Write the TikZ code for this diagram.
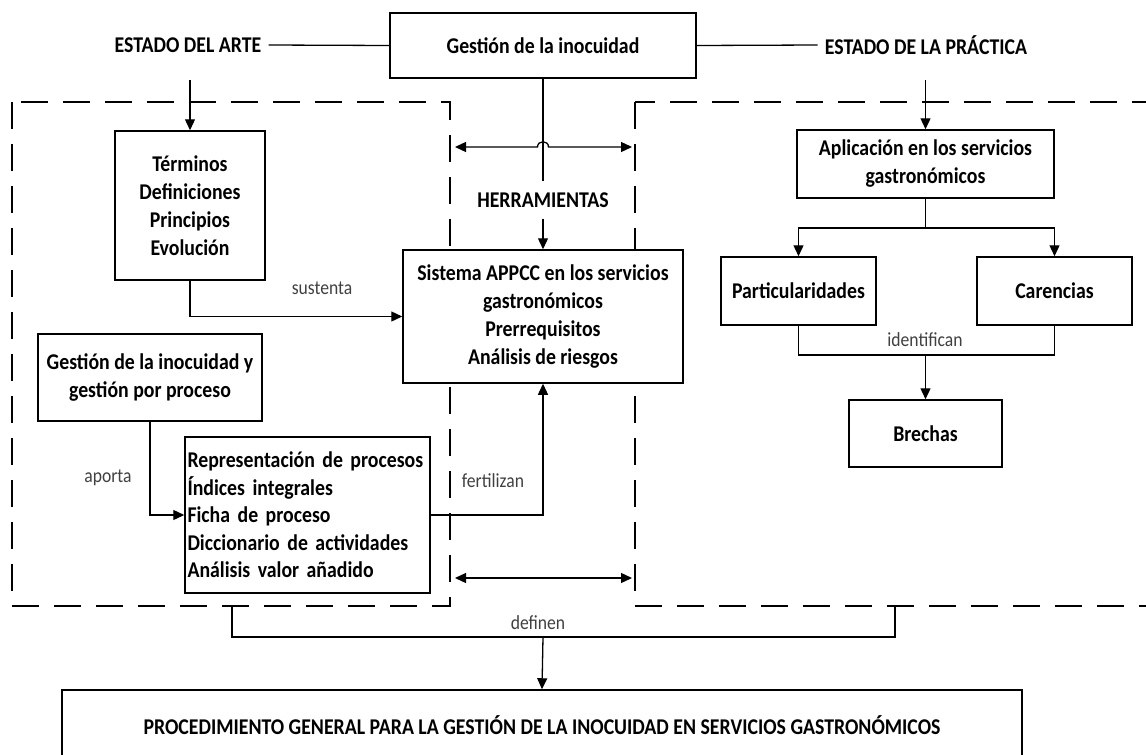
\documentclass[tikz,border=0pt]{standalone}
\usepackage{fontspec}
\setmainfont{Carlito}[FakeStretch=0.88]
\usetikzlibrary{arrows.meta}
\begin{document}
\begin{tikzpicture}[x=1pt,y=-1pt,
  box/.style={draw, line width=1.5pt, fill=white, align=center, inner sep=0pt,
    font=\bfseries\fontsize{22.5}{28}\selectfont},
  plain/.style={inner xsep=7pt, inner ysep=2pt, font=\bfseries\fontsize{22.5}{28}\selectfont},
  lbl/.style={inner sep=0pt, text=black!75, font=\fontsize{20}{22}\selectfont},
  link/.style={line width=1.3pt},
  arr/.style={link, -{Triangle[length=11pt,width=10pt]}},
  twoway/.style={link, {Triangle[length=11pt,width=10pt]}-{Triangle[length=11pt,width=10pt]}},
  zone/.style={line width=1.9pt, dash pattern=on 27pt off 15pt},
]
\useasboundingbox (0,0) rectangle (1146,755);
\clip (0,0) rectangle (1146,755);

% dashed zones: state of the art (left) and state of practice (right)
\draw[zone] (12,102) rectangle (450,606);
\draw[zone] (635,102) rectangle (1170,606);

% free ends of connectors
\coordinate (arteFoot) at (190,80);
\coordinate (pracFoot) at (925.5,80);
\coordinate (toolL) at (455,147);
\coordinate (toolR) at (632,147);
\coordinate (fieldL) at (455,578);
\coordinate (fieldR) at (632,578);
\coordinate (leftBase) at (232,606);
\coordinate (rightBase) at (895,606);
\coordinate (merge) at (543,637);
\coordinate (fork) at (925.5,228);
\coordinate (join) at (925.5,355);

% top row
\node[box, minimum width=306, minimum height=65] (gest) at (543,45.5) {Gestión de la inocuidad};
\node[plain] (arte) at (188,45) {ESTADO DEL ARTE};
\node[plain] (prac) at (926,45) {ESTADO DE LA PRÁCTICA};
\node[plain, inner ysep=11pt] (herr) at (543,200) {HERRAMIENTAS};

% left zone
\node[box, minimum width=150, minimum height=149] (term) at (190,205.5)
  {Términos\\Definiciones\\Principios\\Evolución};
\node[box, minimum width=224, minimum height=87] (gyg) at (150,377.5)
  {Gestión de la inocuidad y\\gestión por proceso};
\node[box, minimum width=245, minimum height=156, text width=240pt, align=left,
  font=\bfseries\fontsize{22.5}{27.5}\selectfont] (proc) at (307.5,515)
  {Representación de procesos\\Índices integrales\\Ficha de proceso\\Diccionario de actividades\\Análisis valor añadido};

% centre
\node[box, minimum width=280, minimum height=133] (appcc) at (543,316.5)
  {Sistema APPCC en los servicios\\gastronómicos\\Prerrequisitos\\Análisis de riesgos};

% right zone
\node[box, minimum width=257, minimum height=68] (apl) at (925.5,164)
  {Aplicación en los servicios\\gastronómicos};
\node[box, minimum width=155, minimum height=68] (part) at (798.5,291) {Particularidades};
\node[box, minimum width=155, minimum height=68] (car) at (1054.5,291) {Carencias};
\node[box, minimum width=153, minimum height=67] (bre) at (925.5,433.5) {Brechas};

% result
\node[box, minimum width=960, minimum height=70] (proced) at (542,725)
  {PROCEDIMIENTO GENERAL PARA LA GESTIÓN DE LA INOCUIDAD EN SERVICIOS GASTRONÓMICOS};

% connectors
\draw[link] (arte.east) -- (gest.west);
\draw[link] (gest.east) -- (prac.west);
\draw[arr] (arteFoot) -- (term.north);
\draw[arr] (pracFoot) -- (apl.north);
\draw[twoway] (toolL) -- (537.5,147) .. controls (537.5,140) and (548.5,140) .. (548.5,147) -- (toolR);
\draw[twoway] (fieldL) -- (fieldR);
\draw[link] (gest.south) -- (herr.north);
\draw[arr] (herr.south) -- (appcc.north);
\draw[arr] (term.south) |- (appcc.west);
\draw[arr] (gyg.south) |- (proc.west);
\draw[arr] (proc.east) -| (appcc.south);
\draw[link] (apl.south) -- (fork);
\draw[arr] (fork) -| (part.north);
\draw[arr] (fork) -| (car.north);
\draw[link] (part.south) |- (join) -| (car.south);
\draw[arr] (join) -- (bre.north);
\draw[link] (leftBase) |- (merge) -| (rightBase);
\draw[arr] (merge) -- (proced.north);

% connector labels
\node[lbl] (lsus) at (322,288) {sustenta};
\node[lbl] (lapo) at (108,478) {aporta};
\node[lbl] (lfer) at (493,481) {fertilizan};
\node[lbl] (lide) at (925,340) {identifican};
\node[lbl] (ldef) at (538,623) {definen};
\end{tikzpicture}
\end{document}
